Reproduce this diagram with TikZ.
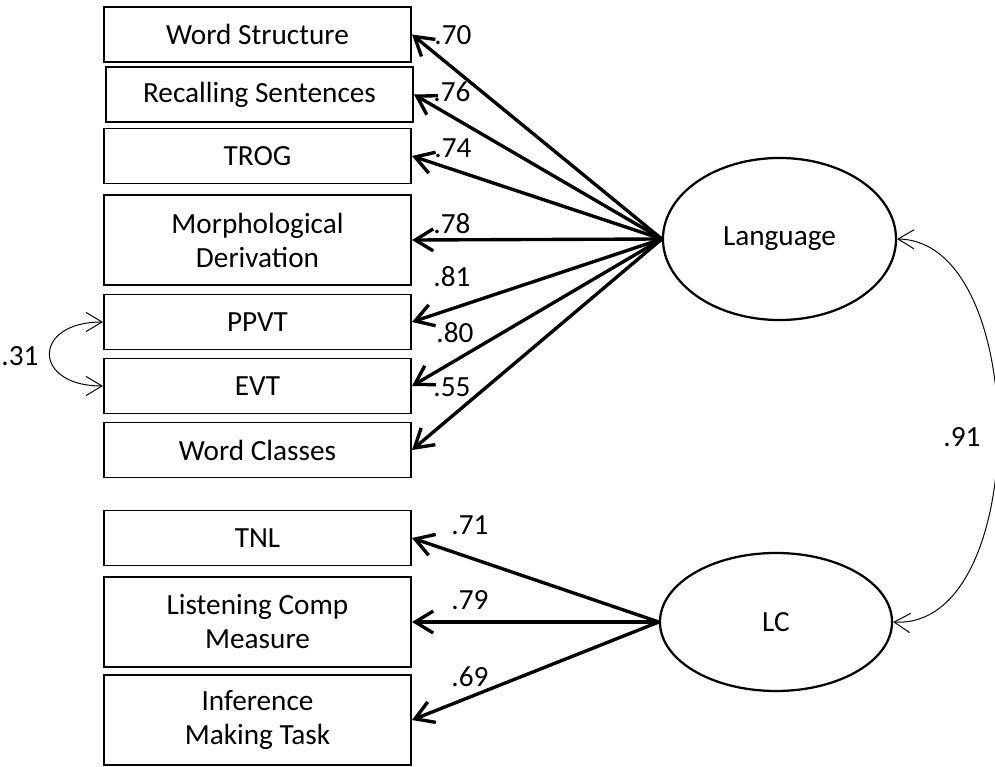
\documentclass[tikz,border=0pt]{standalone}
\usepackage{fontspec}
\setmainfont{Carlito}
\usetikzlibrary{arrows.meta,shapes.geometric}
\tikzset{
	measure/.style={draw, line width=1.4pt, minimum width=7.675cm, minimum height=1.375cm, inner sep=0pt, align=center},
	tallmeasure/.style={measure, minimum height=2.25cm},
	factor/.style={draw, ellipse, line width=1.6pt, inner sep=0pt},
	load/.style={line width=2.4pt, -{Straight Barb[length=0.45cm, width=0.55cm]}},
	corr/.style={line width=0.7pt, {Straight Barb[length=0.4cm, width=0.48cm]}-{Straight Barb[length=0.4cm, width=0.48cm]}}
}
\begin{document}
\begin{tikzpicture}[x=0.025cm, y=-0.025cm, font=\fontsize{20.8}{24.2}\selectfont]
			\useasboundingbox (0,0) rectangle (995,767);
			% observed measures
			\node[measure] (ws) at (257.5,34.5) {Word Structure};
			\node[measure] (rs) at (259.5,94.5) {Recalling Sentences};
			\node[measure] (trog) at (257.5,156) {TROG};
			\node[tallmeasure] (md) at (257.5,240) {Morphological\\Derivation};
			\node[measure] (ppvt) at (257.5,322) {PPVT};
			\node[measure] (evt) at (257.5,386) {EVT};
			\node[measure] (wc) at (257.5,450) {Word Classes};
			\node[measure] (tnl) at (257.5,538) {TNL};
			\node[tallmeasure] (lcm) at (257.5,622) {Listening Comp\\Measure};
			\node[tallmeasure] (imt) at (257.5,720) {Inference\\Making Task};
			% latent factors
			\node[factor, minimum width=5.825cm, minimum height=4.05cm] (lang) at (779.5,239) {Language};
			\node[factor, minimum width=5.8cm, minimum height=3.45cm] (lc) at (776,622) {LC};
			% loadings
			\draw[load] (lang.west) -- (ws.east);
			\draw[load] (lang.west) -- (rs.east);
			\draw[load] (lang.west) -- (trog.east);
			\draw[load] (lang.west) -- (md.east);
			\draw[load] (lang.west) -- (ppvt.east);
			\draw[load] (lang.west) -- (evt.east);
			\draw[load] (lang.west) -- (wc.east);
			\draw[load] (lc.west) -- (tnl.east);
			\draw[load] (lc.west) -- (lcm.east);
			\draw[load] (lc.west) -- (imt.east);
			\node (l70) at (453,35) {.70};
			\node (l76) at (452,92) {.76};
			\node (l74) at (453,148) {.74};
			\node (l78) at (452,224) {.78};
			\node (l81) at (452,277) {.81};
			\node (l80) at (455,333) {.80};
			\node (l55) at (452,387) {.55};
			\node (l71) at (470,525) {.71};
			\node (l79) at (470,600) {.79};
			\node (l69) at (470,677) {.69};
			% correlations
			\draw[corr] (ppvt.west) .. controls (32,322) and (32,386) .. (evt.west);
			\node (l31) at (20,356) {.31};
			\draw[corr] (lang.east) .. controls (1032,241) and (1032,630) .. (lc.east);
			\node (l91) at (962,437) {.91};
		\end{tikzpicture}
\end{document}
